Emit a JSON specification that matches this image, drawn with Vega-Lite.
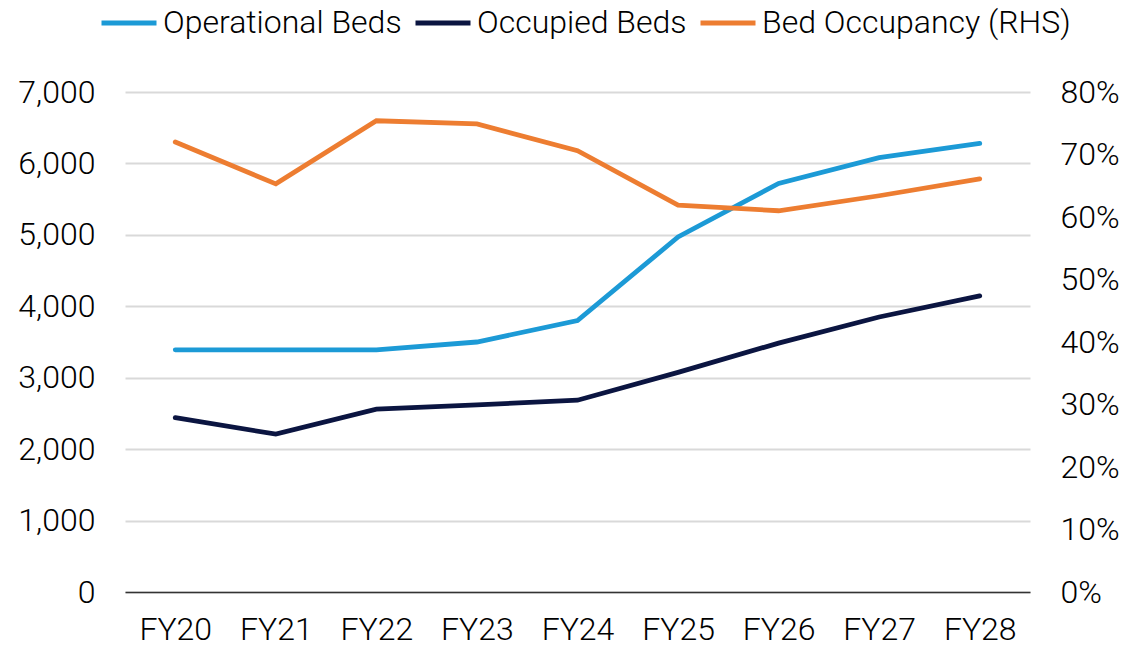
{
  "$schema": "https://vega.github.io/schema/vega-lite/v6.json",
  "width": 905,
  "height": 500,
  "autosize": {"type": "none"},
  "padding": {"left": 125, "top": 92, "right": 99, "bottom": 58},
  "background": "white",
  "config": {
    "view": {"stroke": null},
    "font": "Roboto",
    "axis": {"labelFont": "Roboto", "labelFontWeight": 300, "labelFontSize": 32, "labelColor": "#000000", "ticks": false, "title": null},
    "legend": {"labelFont": "Roboto", "labelFontWeight": 300, "labelFontSize": 32, "labelColor": "#000000", "labelLimit": 500}
  },
  "datasets": {
    "beds": [
      {"year": "FY20", "series": "Operational Beds", "value": 3390},
      {"year": "FY21", "series": "Operational Beds", "value": 3390},
      {"year": "FY22", "series": "Operational Beds", "value": 3390},
      {"year": "FY23", "series": "Operational Beds", "value": 3500},
      {"year": "FY24", "series": "Operational Beds", "value": 3800},
      {"year": "FY25", "series": "Operational Beds", "value": 4970},
      {"year": "FY26", "series": "Operational Beds", "value": 5720},
      {"year": "FY27", "series": "Operational Beds", "value": 6080},
      {"year": "FY28", "series": "Operational Beds", "value": 6280},
      {"year": "FY20", "series": "Occupied Beds", "value": 2440},
      {"year": "FY21", "series": "Occupied Beds", "value": 2210},
      {"year": "FY22", "series": "Occupied Beds", "value": 2560},
      {"year": "FY23", "series": "Occupied Beds", "value": 2620},
      {"year": "FY24", "series": "Occupied Beds", "value": 2685},
      {"year": "FY25", "series": "Occupied Beds", "value": 3075},
      {"year": "FY26", "series": "Occupied Beds", "value": 3485},
      {"year": "FY27", "series": "Occupied Beds", "value": 3850},
      {"year": "FY28", "series": "Occupied Beds", "value": 4145}
    ],
    "occ": [
      {"year": "FY20", "series": "Bed Occupancy (RHS)", "value": 0.72},
      {"year": "FY21", "series": "Bed Occupancy (RHS)", "value": 0.653},
      {"year": "FY22", "series": "Bed Occupancy (RHS)", "value": 0.754},
      {"year": "FY23", "series": "Bed Occupancy (RHS)", "value": 0.749},
      {"year": "FY24", "series": "Bed Occupancy (RHS)", "value": 0.706},
      {"year": "FY25", "series": "Bed Occupancy (RHS)", "value": 0.619},
      {"year": "FY26", "series": "Bed Occupancy (RHS)", "value": 0.61},
      {"year": "FY27", "series": "Bed Occupancy (RHS)", "value": 0.634},
      {"year": "FY28", "series": "Bed Occupancy (RHS)", "value": 0.661}
    ]
  },
  "encoding": {
    "x": {
      "field": "year", "type": "ordinal",
      "scale": {"type": "point", "padding": 0.5},
      "axis": {"labelAngle": 0, "labelPadding": 22, "domain": true, "domainColor": "#333333", "domainWidth": 1.5, "grid": false}
    },
    "color": {
      "field": "series", "type": "nominal",
      "scale": {"domain": ["Operational Beds", "Occupied Beds", "Bed Occupancy (RHS)"], "range": ["#1C9AD6", "#0B1541", "#ED7D31"]},
      "legend": {
        "title": null, "orient": "none", "direction": "horizontal", "columns": 3,
        "legendX": -26, "legendY": -99,
        "symbolType": "stroke", "symbolSize": 3025, "symbolStrokeWidth": 5,
        "labelOffset": 4, "columnPadding": 3
      }
    }
  },
  "layer": [
    {
      "data": {"name": "beds"},
      "mark": {"type": "line", "strokeWidth": 4.8, "strokeCap": "round"},
      "encoding": {
        "y": {
          "field": "value", "type": "quantitative",
          "scale": {"domain": [0, 7000]},
          "axis": {"values": [0, 1000, 2000, 3000, 4000, 5000, 6000, 7000], "format": ",.0f", "domain": false, "labelPadding": 30, "grid": true, "gridColor": "#d9d9d9", "gridWidth": 2}
        }
      }
    },
    {
      "data": {"name": "occ"},
      "mark": {"type": "line", "strokeWidth": 4.8, "strokeCap": "round"},
      "encoding": {
        "y": {
          "field": "value", "type": "quantitative",
          "scale": {"domain": [0, 0.8]},
          "axis": {"orient": "right", "values": [0, 0.1, 0.2, 0.3, 0.4, 0.5, 0.6, 0.7, 0.8], "format": ".0%", "domain": false, "labelPadding": 30, "grid": false}
        }
      }
    }
  ],
  "resolve": {"scale": {"y": "independent"}}
}
